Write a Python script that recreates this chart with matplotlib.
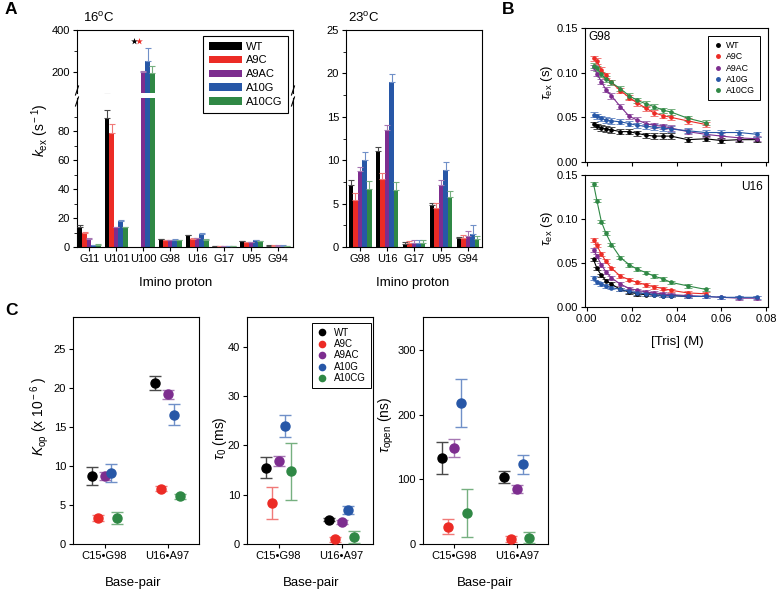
import numpy as np
import matplotlib
matplotlib.use('Agg')
import matplotlib.pyplot as plt
from matplotlib.lines import Line2D
from matplotlib.patches import Patch

plt.rcParams['font.family'] = ['Liberation Sans', 'DejaVu Sans']
plt.rcParams['mathtext.fontset'] = 'custom'
plt.rcParams['mathtext.rm'] = 'Liberation Sans'
plt.rcParams['mathtext.it'] = 'Liberation Sans:italic'
plt.rcParams['mathtext.bf'] = 'Liberation Sans:bold'
plt.rcParams['axes.linewidth'] = 0.8
plt.rcParams['xtick.major.size'] = 3
plt.rcParams['ytick.major.size'] = 3
plt.rcParams['xtick.minor.size'] = 2
plt.rcParams['ytick.minor.size'] = 2
plt.rcParams['xtick.major.width'] = 0.8
plt.rcParams['ytick.major.width'] = 0.8

# ---------------- data ----------------
mutants = ['WT', 'A9C', 'A9AC', 'A10G', 'A10CG']
colors = ['#000000', '#ec2b25', '#7d2d8f', '#2757a7', '#2f8845']
err_colors = ['#4a4a4a', '#f07a78', '#a677b3', '#7090c8', '#76b080']
nan = np.nan

# panel A, 16 C
sites16 = ['G11', 'U101', 'U100', 'G98', 'U16', 'G17', 'U95', 'G94']
k16_wt = [14.0, 89.5, nan, 5.5, 8.0, 0.7, 4.0, 1.0]
k16_a9c = [9.7, 79.0, nan, 4.5, 5.5, 0.6, 3.5, 1.0]
k16_a9ac = [5.5, 13.5, 200, 4.5, 6.0, 0.6, 3.5, 1.0]
k16_a10g = [1.4, 18.0, 250, 5.0, 9.0, 0.6, 4.5, 1.0]
k16_a10cg = [1.6, 13.5, 195, 4.5, 5.0, 0.6, 4.0, 0.8]
e16_wt = [1.0, 5.0, nan, 0.3, 0.4, 0.1, 0.3, 0.1]
e16_a9c = [0.8, 5.8, nan, 0.3, 0.4, 0.1, 0.3, 0.1]
e16_a9ac = [0.5, 0.5, 5, 0.3, 0.4, 0.1, 0.3, 0.1]
e16_a10g = [0.3, 1.0, 62, 0.3, 0.5, 0.1, 0.3, 0.1]
e16_a10cg = [0.3, 0.6, 35, 0.3, 0.4, 0.1, 0.3, 0.1]
star_y = 350

# panel A, 23 C
sites23 = ['G98', 'U16', 'G17', 'U95', 'G94']
k23_wt = [7.2, 11.1, 0.4, 4.8, 1.0]
k23_a9c = [5.4, 7.8, 0.5, 4.5, 1.0]
k23_a9ac = [8.7, 13.5, 0.5, 7.2, 1.3]
k23_a10g = [10.0, 19.0, 0.5, 8.9, 1.5]
k23_a10cg = [6.7, 6.6, 0.5, 5.8, 0.9]
e23_wt = [0.5, 0.4, 0.2, 0.3, 0.2]
e23_a9c = [0.8, 0.7, 0.2, 0.6, 0.4]
e23_a9ac = [0.5, 0.6, 0.3, 0.5, 0.5]
e23_a10g = [0.9, 0.9, 0.3, 0.9, 1.0]
e23_a10cg = [0.9, 0.9, 0.3, 0.7, 0.4]

# panel B, exchange time vs [Tris]
tris_full = [0.003, 0.0045, 0.0065, 0.0085, 0.011, 0.015, 0.019, 0.0225, 0.0265,
             0.030, 0.034, 0.0375, 0.045, 0.053, 0.060, 0.068, 0.076]
g98_wt = [0.042, 0.040, 0.038, 0.037, 0.036, 0.034, 0.034, 0.032, 0.030,
          0.029, 0.029, 0.029, 0.025, 0.026, 0.024, 0.025, 0.025]
g98_a9c = [0.116, 0.113, 0.103, 0.097, 0.089, 0.080, 0.072, 0.066, 0.060,
           0.055, 0.052, 0.050, 0.046, 0.042]
g98_a9ac = [0.106, 0.099, 0.090, 0.081, 0.074, 0.062, 0.051, 0.047, 0.043,
            0.041, 0.040, 0.038, 0.034, 0.031, 0.029, 0.027, 0.026]
g98_a10g = [0.053, 0.051, 0.049, 0.047, 0.046, 0.045, 0.043, 0.041, 0.040,
            0.039, 0.038, 0.037, 0.035, 0.033, 0.033, 0.033, 0.031]
g98_a10cg = [0.108, 0.105, 0.098, 0.093, 0.089, 0.082, 0.074, 0.069, 0.065,
             0.062, 0.058, 0.056, 0.049, 0.044]
u16_wt = [0.054, 0.044, 0.036, 0.030, 0.026, 0.020, 0.017, 0.015, 0.014,
          0.014, 0.013, 0.013, 0.012]
u16_a9c = [0.076, 0.070, 0.060, 0.052, 0.044, 0.035, 0.031, 0.028, 0.025,
           0.023, 0.021, 0.019, 0.016, 0.015]
u16_a9ac = [0.065, 0.058, 0.048, 0.040, 0.033, 0.026, 0.021, 0.019, 0.017,
            0.016, 0.015, 0.014, 0.013, 0.012, 0.011, 0.010, 0.010]
u16_a10g = [0.033, 0.028, 0.026, 0.024, 0.022, 0.020, 0.018, 0.016, 0.015,
            0.014, 0.013, 0.013, 0.012, 0.012, 0.011, 0.011, 0.011]
u16_a10cg = [0.140, 0.121, 0.097, 0.084, 0.071, 0.056, 0.048, 0.043, 0.039,
             0.035, 0.032, 0.028, 0.024, 0.020]
tau_err_g98 = 0.003
tau_err_u16 = 0.002

# panel C
pairs = ['C15\u2022G98', 'U16\u2022A97']
kop_val = [[8.7, 20.6], [3.3, 7.1], [8.7, 19.2], [9.1, 16.6], [3.3, 6.1]]
kop_err = [[1.2, 0.9], [0.4, 0.3], [0.5, 0.6], [1.1, 1.3], [0.8, 0.3]]
tau0_val = [[15.5, 4.9], [8.3, 1.0], [16.9, 4.4], [23.9, 6.9], [14.7, 1.5]]
tau0_err = [[2.1, 0.3], [3.3, 0.5], [1.0, 0.4], [2.3, 0.9], [5.7, 1.2]]
topen_val = [[133, 104], [27, 8], [148, 85], [218, 123], [48, 10]]
topen_err = [[25, 9], [11, 5], [14, 6], [37, 14], [37, 8]]

# ---------------- layout helpers ----------------
W, H = 777, 591
fig = plt.figure(figsize=(W / 100, H / 100), dpi=100)
fig.patch.set_facecolor('white')


def rect(l, t, r, b):
    return [l / W, 1 - b / H, (r - l) / W, (b - t) / H]


def ftext(x, y, s, **kw):
    fig.text(x / W, 1 - y / H, s, **kw)


def fline(xs, ys):
    fig.add_artist(Line2D([x / W for x in xs], [1 - y / H for y in ys],
                          color='black', lw=0.8, transform=fig.transFigure))


bw = 0.17


def draw_bars(ax, vals, errs):
    n = len(vals[0])
    x = np.arange(n)
    for i in range(5):
        pos = x + (i - 2) * bw
        v = np.array(vals[i], dtype=float)
        e = np.array(errs[i], dtype=float)
        ok = ~np.isnan(v)
        ax.bar(pos[ok], v[ok], bw, color=colors[i], linewidth=0, zorder=2)
        ax.errorbar(pos[ok], v[ok], yerr=[np.zeros(ok.sum()), e[ok]], fmt='none',
                    ecolor=err_colors[i], elinewidth=0.8, capsize=2, capthick=0.8, zorder=3)


tick_fs = 8
lab_fs = 9.5

# ---------------- panel A 16 C (broken axis) ----------------
vals16 = [k16_wt, k16_a9c, k16_a9ac, k16_a10g, k16_a10cg]
errs16 = [e16_wt, e16_a9c, e16_a9ac, e16_a10g, e16_a10cg]
ax_up = fig.add_axes(rect(77, 30, 293, 93))
ax_lo = fig.add_axes(rect(77, 98, 293, 247))
for ax in (ax_up, ax_lo):
    draw_bars(ax, vals16, errs16)
    ax.set_xlim(-0.45, 7.55)
    ax.tick_params(labelsize=tick_fs, direction='out', pad=2)
ax_up.set_ylim(100, 400)
ax_up.set_yticks([200, 400])
ax_up.set_yticks([300], minor=True)
ax_up.spines['bottom'].set_visible(False)
ax_up.tick_params(axis='x', bottom=False, labelbottom=False)
ax_lo.set_ylim(0, 103)
ax_lo.set_yticks([0, 20, 40, 60, 80])
ax_lo.set_yticks([10, 30, 50, 70, 90], minor=True)
ax_lo.spines['top'].set_visible(False)
ax_lo.set_xticks(np.arange(len(sites16)))
ax_lo.set_xticklabels(sites16)
missing = [i for i in range(2) if np.isnan(vals16[i][2])]
for i in missing:
    ax_up.scatter([2 + (i - 2) * bw], [star_y], marker='*', s=26, color=colors[i],
                  linewidths=0, zorder=4, clip_on=False)
for xc in (77, 293):
    fline([xc - 1.5, xc + 1.5], [95, 86])
    fline([xc - 1.5, xc + 1.5], [106, 97])

leg_handles = [Patch(facecolor=c, edgecolor='none') for c in colors]
fig.legend(leg_handles, mutants, loc='upper left',
           bbox_to_anchor=(203 / W, 1 - 36 / H), fontsize=8, frameon=True,
           fancybox=False, edgecolor='black', framealpha=1, handlelength=3.0,
           handleheight=0.7, labelspacing=0.35, borderpad=0.5, handletextpad=0.35,
           borderaxespad=0).get_frame().set_linewidth(0.8)

ftext(83, 18, '16$^{\\rm o}$C', fontsize=9.5, va='center', ha='left')
ftext(40, 130, '$k_{\\rm ex}$ (s$^{\\rm -1}$)', fontsize=lab_fs + 0.5, rotation=90,
      va='center', ha='center')
ftext(176, 283, 'Imino proton', fontsize=lab_fs, va='center', ha='center')

# ---------------- panel A 23 C ----------------
vals23 = [k23_wt, k23_a9c, k23_a9ac, k23_a10g, k23_a10cg]
errs23 = [e23_wt, e23_a9c, e23_a9ac, e23_a10g, e23_a10cg]
ax23 = fig.add_axes(rect(346, 30, 482, 247))
draw_bars(ax23, vals23, errs23)
ax23.set_xlim(-0.52, 4.52)
ax23.set_ylim(0, 25)
ax23.set_yticks([0, 5, 10, 15, 20, 25])
ax23.set_yticks(np.arange(2.5, 25, 5), minor=True)
ax23.set_xticks(np.arange(len(sites23)))
ax23.set_xticklabels(sites23)
ax23.tick_params(labelsize=tick_fs, direction='out', pad=2)
ftext(348, 18, '23$^{\\rm o}$C', fontsize=9.5, va='center', ha='left')
ftext(413, 283, 'Imino proton', fontsize=lab_fs, va='center', ha='center')

# ---------------- panel B ----------------
def draw_tau(ax, series, err):
    for i, y in enumerate(series):
        x = tris_full[:len(y)]
        ax.errorbar(x, y, yerr=err, fmt='o-', color=colors[i], ms=2.3, lw=0.8,
                    ecolor=err_colors[i], elinewidth=0.7, capsize=2.8, capthick=0.7,
                    clip_on=False, zorder=3)
    ax.set_xlim(-0.0008, 0.0808)
    ax.set_ylim(0, 0.15)
    ax.set_yticks([0, 0.05, 0.10, 0.15])
    ax.set_xticks([0, 0.02, 0.04, 0.06, 0.08])
    ax.yaxis.set_major_formatter(plt.FormatStrFormatter('%.2f'))
    ax.xaxis.set_major_formatter(plt.FormatStrFormatter('%.2f'))
    ax.tick_params(labelsize=8, direction='out', pad=2)


axb1 = fig.add_axes(rect(585, 28, 768, 162))
draw_tau(axb1, [g98_wt, g98_a9c, g98_a9ac, g98_a10g, g98_a10cg], tau_err_g98)
axb1.tick_params(axis='x', labelbottom=False)
axb2 = fig.add_axes(rect(585, 175, 768, 307))
draw_tau(axb2, [u16_wt, u16_a9c, u16_a9ac, u16_a10g, u16_a10cg], tau_err_u16)
axb1.text(0.02, 0.93, 'G98', transform=axb1.transAxes, fontsize=8.5, va='center', ha='left')
axb2.text(0.97, 0.91, 'U16', transform=axb2.transAxes, fontsize=8.5, va='center', ha='right')
b_handles = [Line2D([0], [0], marker='o', ls='none', color=c, ms=2.5) for c in colors]
lb = axb1.legend(b_handles, mutants, loc='upper right', bbox_to_anchor=(0.958, 0.94),
                 fontsize=6.3, frameon=True, fancybox=False, edgecolor='black',
                 framealpha=1, handlelength=1.2, labelspacing=0.25, borderpad=0.6,
                 handletextpad=0.3, borderaxespad=0)
lb.get_frame().set_linewidth(0.7)
ftext(547, 82, '$\\tau_{\\rm ex}$ (s)', fontsize=lab_fs, rotation=90, va='center', ha='center')
ftext(547, 228, '$\\tau_{\\rm ex}$ (s)', fontsize=lab_fs, rotation=90, va='center', ha='center')
ftext(677, 342, '[Tris] (M)', fontsize=lab_fs, va='center', ha='center')

# ---------------- panel C ----------------
offs = [-0.2, -0.1, 0.0, 0.1, 0.2]


def draw_c(ax, vals, errs, ymax, yticks):
    for i in range(5):
        ax.errorbar(np.arange(2) + offs[i], vals[i], yerr=errs[i], fmt='o',
                    color=colors[i], ms=6.5, mec=colors[i], ecolor=err_colors[i],
                    elinewidth=1.0, capsize=4.5, capthick=1.0, zorder=3, clip_on=False)
    ax.set_xlim(-0.5, 1.5)
    ax.set_ylim(0, ymax)
    ax.set_yticks(yticks)
    ax.set_xticks([0, 1])
    ax.set_xticklabels(pairs)
    ax.tick_params(labelsize=tick_fs, direction='out', pad=2)


axc1 = fig.add_axes(rect(73, 317, 199, 544))
draw_c(axc1, kop_val, kop_err, 29.1, [0, 5, 10, 15, 20, 25])
axc2 = fig.add_axes(rect(247, 317, 373, 544))
draw_c(axc2, tau0_val, tau0_err, 46, [0, 10, 20, 30, 40])
axc3 = fig.add_axes(rect(423, 317, 548, 544))
draw_c(axc3, topen_val, topen_err, 351, [0, 100, 200, 300])

c_handles = [Line2D([0], [0], marker='o', ls='none', color=c, ms=5.5, mew=0) for c in colors]
lc = axc2.legend(c_handles, mutants, loc='upper right', bbox_to_anchor=(0.985, 0.975),
                 fontsize=7, frameon=True, fancybox=False, edgecolor='black',
                 framealpha=1, handlelength=1.0, labelspacing=0.15, borderpad=0.5,
                 handletextpad=0.8, borderaxespad=0)
lc.get_frame().set_linewidth(0.7)

ftext(40, 416, '$K_{\\rm op}$ (x 10$^{\\rm -6}$ )', fontsize=lab_fs + 0.5, rotation=90,
      va='center', ha='center')
ftext(220, 438, '$\\tau_{\\rm 0}$ (ms)', fontsize=lab_fs + 0.5, rotation=90, va='center', ha='center')
ftext(386, 425, '$\\tau_{\\rm open}$ (ns)', fontsize=lab_fs + 0.5, rotation=90, va='center', ha='center')
for xc in (133, 311, 485):
    ftext(xc, 583, 'Base-pair', fontsize=lab_fs, va='center', ha='center')

# panel letters
ftext(11, 10, 'A', fontsize=12.5, fontweight='bold', va='center', ha='center')
ftext(508, 9, 'B', fontsize=12.5, fontweight='bold', va='center', ha='center')
ftext(11, 311, 'C', fontsize=12.5, fontweight='bold', va='center', ha='center')

fig.savefig('out.png', dpi=100, facecolor='white')
plt.close(fig)
